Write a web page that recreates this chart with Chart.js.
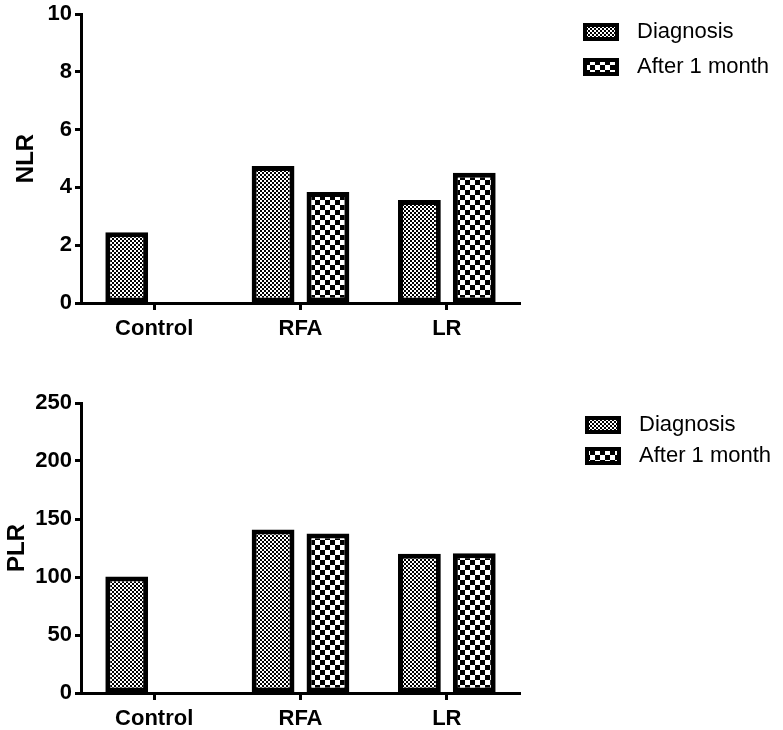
<!DOCTYPE html>
<html>
<head>
<meta charset="utf-8">
<script src="https://cdn.jsdelivr.net/npm/chart.js@4/dist/chart.umd.min.js"></script>
<style>
  html, body { margin: 0; padding: 0; background: #fff; }
  #wrap { position: relative; width: 783px; height: 730px; }
  canvas { position: absolute; left: 0; }
  #c1 { top: 0; }
  #c2 { top: 365px; }
</style>
</head>
<body>
<div id="wrap">
  <canvas id="c1" width="783" height="365"></canvas>
  <canvas id="c2" width="783" height="365"></canvas>
</div>
<script>
const categories = ['Control', 'RFA', 'LR'];
const seriesNames = ['Diagnosis', 'After 1 month'];
const nlrDiagnosis = [2.45, 4.74, 3.56];
const nlrAfter = [null, 3.84, 4.51];
const plrDiagnosis = [100.5, 141, 120];
const plrAfter = [null, 137.5, 120.5];
const nlrTicks = [0, 2, 4, 6, 8, 10];
const plrTicks = [0, 50, 100, 150, 200, 250];

function makePattern(cell) {
  const c = document.createElement('canvas');
  c.width = cell * 2; c.height = cell * 2;
  const g = c.getContext('2d');
  g.fillStyle = '#000';
  g.fillRect(0, 0, cell * 2, cell * 2);
  g.fillStyle = '#fff';
  g.fillRect(0, 0, cell, cell);
  g.fillRect(cell, cell, cell, cell);
  return c;
}
const ctxTmp = document.createElement('canvas').getContext('2d');
const fine = ctxTmp.createPattern(makePattern(2), 'repeat');
const coarse = ctxTmp.createPattern(makePattern(5), 'repeat');

const FONT = "'Liberation Sans', Arial, sans-serif";

function legendPlugin(boxes) {
  return {
    id: 'customLegend',
    afterDraw(chart) {
      const ctx = chart.ctx;
      ctx.save();
      const fills = [fine, coarse];
      boxes.forEach((b, i) => {
        ctx.fillStyle = fills[i];
        ctx.fillRect(b.x, b.y, 36, 18);
        ctx.strokeStyle = '#000';
        ctx.lineWidth = 4;
        ctx.strokeRect(b.x + 2, b.y + 2, 32, 14);
        ctx.fillStyle = '#000';
        ctx.font = '22px ' + FONT;
        ctx.textBaseline = 'middle';
        ctx.textAlign = 'left';
        ctx.fillText(seriesNames[i], b.x + 54, b.y + 9);
      });
      ctx.restore();
    }
  };
}

function makeChart(id, title, titlePad, diag, after, ticks, topPad, bottomY, legendBoxes) {
  const H = 365;
  return new Chart(document.getElementById(id), {
    type: 'bar',
    data: {
      labels: categories,
      datasets: [
        { label: seriesNames[0], data: diag, backgroundColor: fine, borderColor: '#000', borderWidth: 5, borderSkipped: false },
        { label: seriesNames[1], data: after, backgroundColor: coarse, borderColor: '#000', borderWidth: 5, borderSkipped: false }
      ]
    },
    options: {
      responsive: false,
      animation: false,
      events: [],
      categoryPercentage: 0.75,
      barPercentage: 0.78,
      layout: { padding: { top: topPad, right: 263, left: 0, bottom: 0 } },
      plugins: { legend: { display: false }, tooltip: { enabled: false } },
      scales: {
        x: {
          afterFit: s => { s.height = H - bottomY; },
          grid: { offset: false, drawOnChartArea: false, tickLength: 7, tickColor: '#000', tickWidth: 3 },
          border: { color: '#000', width: 3 },
          ticks: { color: '#000', font: { family: FONT, size: 22, weight: 'bold' }, padding: 6, maxRotation: 0 }
        },
        y: {
          min: ticks[0], max: ticks[ticks.length - 1],
          afterFit: s => { s.width = 81; },
          afterBuildTicks: s => { s.ticks = ticks.map(v => ({ value: v })); },
          grid: { drawOnChartArea: false, tickLength: 6, tickColor: '#000', tickWidth: 3 },
          border: { color: '#000', width: 3 },
          ticks: { color: '#000', font: { family: FONT, size: 22, weight: 'bold', lineHeight: 1 }, padding: 3 },
          title: { display: true, text: title, color: '#000', font: { family: FONT, size: 24, weight: 'bold' }, padding: { top: titlePad, bottom: 0 } }
        }
      }
    },
    plugins: [legendPlugin(legendBoxes)]
  });
}

makeChart('c1', 'NLR', 12, nlrDiagnosis, nlrAfter, nlrTicks, 12, 303, [{ x: 583, y: 23 }, { x: 583, y: 58 }]);
makeChart('c2', 'PLR', 3, plrDiagnosis, plrAfter, plrTicks, 38, 328, [{ x: 585, y: 51 }, { x: 585, y: 82 }]);
</script>
</body>
</html>
